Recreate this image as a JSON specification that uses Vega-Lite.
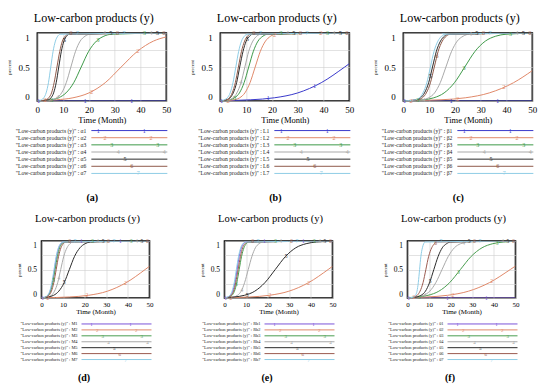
{
"$schema":"https://vega.github.io/schema/vega-lite/v6.json",
"background":"white",
"padding":{"left":5,"top":10,"right":2,"bottom":2},
"center":true,"spacing":9,
"resolve":{"scale":{"x":"independent","y":"independent","color":"independent"}},
"config":{
 "font":"Liberation Serif",
 "view":{"stroke":"#000","strokeWidth":1.6},
 "axis":{"domain":false,"ticks":false,"grid":true,"gridColor":"#cfcfcf","gridWidth":0.6,"labelColor":"#000","titleColor":"#000","titleFontWeight":"normal","labelFont":"Liberation Serif","titleFont":"Liberation Serif"},
 "title":{"font":"Liberation Serif","fontWeight":"normal","color":"#000","anchor":"middle"}
},
"datasets":{
"leg":[
{"p":"a","s":1,"lab":"\"Low-carbon products (y)\" : α1"},{"p":"a","s":2,"lab":"\"Low-carbon products (y)\" : α2"},{"p":"a","s":3,"lab":"\"Low-carbon products (y)\" : α3"},{"p":"a","s":4,"lab":"\"Low-carbon products (y)\" : α4"},{"p":"a","s":5,"lab":"\"Low-carbon products (y)\" : α5"},{"p":"a","s":6,"lab":"\"Low-carbon products (y)\" : α6"},{"p":"a","s":7,"lab":"\"Low-carbon products (y)\" : α7"},
{"p":"b","s":1,"lab":"\"Low-carbon products (y)\" : L1"},{"p":"b","s":2,"lab":"\"Low-carbon products (y)\" : L2"},{"p":"b","s":3,"lab":"\"Low-carbon products (y)\" : L3"},{"p":"b","s":4,"lab":"\"Low-carbon products (y)\" : L4"},{"p":"b","s":5,"lab":"\"Low-carbon products (y)\" : L5"},{"p":"b","s":6,"lab":"\"Low-carbon products (y)\" : L6"},{"p":"b","s":7,"lab":"\"Low-carbon products (y)\" : L7"},
{"p":"c","s":1,"lab":"\"Low-carbon products (y)\" : β1"},{"p":"c","s":2,"lab":"\"Low-carbon products (y)\" : β2"},{"p":"c","s":3,"lab":"\"Low-carbon products (y)\" : β3"},{"p":"c","s":4,"lab":"\"Low-carbon products (y)\" : β4"},{"p":"c","s":5,"lab":"\"Low-carbon products (y)\" : β5"},{"p":"c","s":6,"lab":"\"Low-carbon products (y)\" : β6"},{"p":"c","s":7,"lab":"\"Low-carbon products (y)\" : β7"},
{"p":"d","s":1,"lab":"\"Low-carbon products (y)\" : M1"},{"p":"d","s":2,"lab":"\"Low-carbon products (y)\" : M2"},{"p":"d","s":3,"lab":"\"Low-carbon products (y)\" : M3"},{"p":"d","s":4,"lab":"\"Low-carbon products (y)\" : M4"},{"p":"d","s":5,"lab":"\"Low-carbon products (y)\" : M5"},{"p":"d","s":6,"lab":"\"Low-carbon products (y)\" : M6"},{"p":"d","s":7,"lab":"\"Low-carbon products (y)\" : M7"},
{"p":"e","s":1,"lab":"\"Low-carbon products (y)\" : Rb1"},{"p":"e","s":2,"lab":"\"Low-carbon products (y)\" : Rb2"},{"p":"e","s":3,"lab":"\"Low-carbon products (y)\" : Rb3"},{"p":"e","s":4,"lab":"\"Low-carbon products (y)\" : Rb4"},{"p":"e","s":5,"lab":"\"Low-carbon products (y)\" : Rb5"},{"p":"e","s":6,"lab":"\"Low-carbon products (y)\" : Rb6"},{"p":"e","s":7,"lab":"\"Low-carbon products (y)\" : Rb7"},
{"p":"f","s":1,"lab":"\"Low-carbon products (y)\" : θ1"},{"p":"f","s":2,"lab":"\"Low-carbon products (y)\" : θ2"},{"p":"f","s":3,"lab":"\"Low-carbon products (y)\" : θ3"},{"p":"f","s":4,"lab":"\"Low-carbon products (y)\" : θ4"},{"p":"f","s":5,"lab":"\"Low-carbon products (y)\" : θ5"},{"p":"f","s":6,"lab":"\"Low-carbon products (y)\" : θ6"},{"p":"f","s":7,"lab":"\"Low-carbon products (y)\" : θ7"}
],
"mk":[
{"p":"a","s":1,"t":0.5,"v":0},{"p":"a","s":1,"t":18.5,"v":0},{"p":"a","s":1,"t":36.5,"v":0},
{"p":"a","s":2,"t":3,"v":0.009},{"p":"a","s":2,"t":21,"v":0.137},{"p":"a","s":2,"t":39,"v":0.739},
{"p":"a","s":3,"t":5.5,"v":0.02},{"p":"a","s":3,"t":23.5,"v":0.901},{"p":"a","s":3,"t":41.5,"v":1},
{"p":"a","s":4,"t":8,"v":0.06},{"p":"a","s":4,"t":26,"v":1},{"p":"a","s":4,"t":44,"v":1},
{"p":"a","s":5,"t":10.5,"v":0.9},{"p":"a","s":5,"t":28.5,"v":1},{"p":"a","s":5,"t":46.5,"v":1},
{"p":"a","s":6,"t":13,"v":0.994},{"p":"a","s":6,"t":31,"v":1},{"p":"a","s":6,"t":49,"v":1},
{"p":"a","s":7,"t":15.5,"v":1},{"p":"a","s":7,"t":33.5,"v":1},
{"p":"b","s":1,"t":0.5,"v":0.005},{"p":"b","s":1,"t":18.5,"v":0.037},{"p":"b","s":1,"t":36.5,"v":0.216},
{"p":"b","s":2,"t":3,"v":0.005},{"p":"b","s":2,"t":21,"v":0.977},{"p":"b","s":2,"t":39,"v":1},
{"p":"b","s":3,"t":5.5,"v":0.046},{"p":"b","s":3,"t":23.5,"v":1},{"p":"b","s":3,"t":41.5,"v":1},
{"p":"b","s":4,"t":8,"v":0.274},{"p":"b","s":4,"t":26,"v":1},{"p":"b","s":4,"t":44,"v":1},
{"p":"b","s":5,"t":10.5,"v":0.917},{"p":"b","s":5,"t":28.5,"v":1},{"p":"b","s":5,"t":46.5,"v":1},
{"p":"b","s":6,"t":13,"v":0.994},{"p":"b","s":6,"t":31,"v":1},{"p":"b","s":6,"t":49,"v":1},
{"p":"b","s":7,"t":15.5,"v":1},{"p":"b","s":7,"t":33.5,"v":1},
{"p":"c","s":1,"t":0.5,"v":0},{"p":"c","s":1,"t":18.5,"v":0},{"p":"c","s":1,"t":36.5,"v":0},
{"p":"c","s":2,"t":3,"v":0.005},{"p":"c","s":2,"t":21,"v":0.035},{"p":"c","s":2,"t":39,"v":0.199},
{"p":"c","s":3,"t":5.5,"v":0.01},{"p":"c","s":3,"t":23.5,"v":0.481},{"p":"c","s":3,"t":41.5,"v":0.988},
{"p":"c","s":4,"t":8,"v":0.021},{"p":"c","s":4,"t":26,"v":0.986},{"p":"c","s":4,"t":44,"v":1},
{"p":"c","s":5,"t":10.5,"v":0.373},{"p":"c","s":5,"t":28.5,"v":1},{"p":"c","s":5,"t":46.5,"v":1},
{"p":"c","s":6,"t":13,"v":0.657},{"p":"c","s":6,"t":31,"v":1},{"p":"c","s":6,"t":49,"v":1},
{"p":"c","s":7,"t":15.5,"v":0.971},{"p":"c","s":7,"t":33.5,"v":1},
{"p":"d","s":1,"t":0.5,"v":0.004},{"p":"d","s":1,"t":18.5,"v":1},{"p":"d","s":1,"t":36.5,"v":1},
{"p":"d","s":2,"t":3,"v":0.006},{"p":"d","s":2,"t":21,"v":0.044},{"p":"d","s":2,"t":39,"v":0.264},
{"p":"d","s":3,"t":5.5,"v":0.319},{"p":"d","s":3,"t":23.5,"v":1},{"p":"d","s":3,"t":41.5,"v":1},
{"p":"d","s":4,"t":8,"v":0.348},{"p":"d","s":4,"t":26,"v":1},{"p":"d","s":4,"t":44,"v":1},
{"p":"d","s":5,"t":10.5,"v":0.272},{"p":"d","s":5,"t":28.5,"v":0.998},{"p":"d","s":5,"t":46.5,"v":1},
{"p":"d","s":6,"t":13,"v":0.996},{"p":"d","s":6,"t":31,"v":1},{"p":"d","s":6,"t":49,"v":1},
{"p":"d","s":7,"t":15.5,"v":1},{"p":"d","s":7,"t":33.5,"v":1},
{"p":"e","s":1,"t":0.5,"v":0.005},{"p":"e","s":1,"t":18.5,"v":1},{"p":"e","s":1,"t":36.5,"v":1},
{"p":"e","s":2,"t":3,"v":0.007},{"p":"e","s":2,"t":21,"v":0.049},{"p":"e","s":2,"t":39,"v":0.271},
{"p":"e","s":3,"t":5.5,"v":0.237},{"p":"e","s":3,"t":23.5,"v":1},{"p":"e","s":3,"t":41.5,"v":1},
{"p":"e","s":4,"t":8,"v":0.142},{"p":"e","s":4,"t":26,"v":1},{"p":"e","s":4,"t":44,"v":1},
{"p":"e","s":5,"t":10.5,"v":0.061},{"p":"e","s":5,"t":28.5,"v":0.741},{"p":"e","s":5,"t":46.5,"v":0.992},
{"p":"e","s":6,"t":13,"v":1},{"p":"e","s":6,"t":31,"v":1},{"p":"e","s":6,"t":49,"v":1},
{"p":"e","s":7,"t":15.5,"v":1},{"p":"e","s":7,"t":33.5,"v":1},
{"p":"f","s":1,"t":0.5,"v":0},{"p":"f","s":1,"t":18.5,"v":0},{"p":"f","s":1,"t":36.5,"v":0},
{"p":"f","s":2,"t":3,"v":0.01},{"p":"f","s":2,"t":21,"v":0.061},{"p":"f","s":2,"t":39,"v":0.292},
{"p":"f","s":3,"t":5.5,"v":0.022},{"p":"f","s":3,"t":23.5,"v":0.45},{"p":"f","s":3,"t":41.5,"v":0.968},
{"p":"f","s":4,"t":8,"v":0.057},{"p":"f","s":4,"t":26,"v":0.971},{"p":"f","s":4,"t":44,"v":1},
{"p":"f","s":5,"t":10.5,"v":0.296},{"p":"f","s":5,"t":28.5,"v":1},{"p":"f","s":5,"t":46.5,"v":1},
{"p":"f","s":6,"t":13,"v":0.967},{"p":"f","s":6,"t":31,"v":1},{"p":"f","s":6,"t":49,"v":1},
{"p":"f","s":7,"t":15.5,"v":1},{"p":"f","s":7,"t":33.5,"v":1}
],
"curves":[
{"p":"a","s":1,"t":0,"v":0},{"p":"a","s":1,"t":50,"v":0},
{"p":"a","s":2,"t":0,"v":0.005},{"p":"a","s":2,"t":7.5,"v":0.018},{"p":"a","s":2,"t":13.8,"v":0.047},{"p":"a","s":2,"t":20,"v":0.119},{"p":"a","s":2,"t":26.3,"v":0.269},{"p":"a","s":2,"t":32.5,"v":0.5},{"p":"a","s":2,"t":38.8,"v":0.731},{"p":"a","s":2,"t":45,"v":0.881},{"p":"a","s":2,"t":50,"v":0.943},
{"p":"a","s":3,"t":0,"v":0},{"p":"a","s":3,"t":5.2,"v":0.018},{"p":"a","s":3,"t":8.2,"v":0.047},{"p":"a","s":3,"t":11.1,"v":0.119},{"p":"a","s":3,"t":14.1,"v":0.269},{"p":"a","s":3,"t":17,"v":0.5},{"p":"a","s":3,"t":19.9,"v":0.731},{"p":"a","s":3,"t":22.9,"v":0.881},{"p":"a","s":3,"t":25.8,"v":0.953},{"p":"a","s":3,"t":28.8,"v":0.982},{"p":"a","s":3,"t":50,"v":1},
{"p":"a","s":4,"t":0,"v":0},{"p":"a","s":4,"t":5.7,"v":0.018},{"p":"a","s":4,"t":7.5,"v":0.047},{"p":"a","s":4,"t":9.4,"v":0.119},{"p":"a","s":4,"t":11.2,"v":0.269},{"p":"a","s":4,"t":13,"v":0.5},{"p":"a","s":4,"t":14.8,"v":0.731},{"p":"a","s":4,"t":16.6,"v":0.881},{"p":"a","s":4,"t":18.5,"v":0.953},{"p":"a","s":4,"t":20.3,"v":0.982},{"p":"a","s":4,"t":50,"v":1},
{"p":"a","s":5,"t":0,"v":0},{"p":"a","s":5,"t":4.3,"v":0.018},{"p":"a","s":5,"t":5.3,"v":0.047},{"p":"a","s":5,"t":6.3,"v":0.119},{"p":"a","s":5,"t":7.3,"v":0.269},{"p":"a","s":5,"t":8.3,"v":0.5},{"p":"a","s":5,"t":9.3,"v":0.731},{"p":"a","s":5,"t":10.3,"v":0.881},{"p":"a","s":5,"t":11.3,"v":0.953},{"p":"a","s":5,"t":12.3,"v":0.982},{"p":"a","s":5,"t":50,"v":1},
{"p":"a","s":6,"t":0,"v":0},{"p":"a","s":6,"t":3.4,"v":0.018},{"p":"a","s":6,"t":4.4,"v":0.047},{"p":"a","s":6,"t":5.5,"v":0.119},{"p":"a","s":6,"t":6.5,"v":0.269},{"p":"a","s":6,"t":7.6,"v":0.5},{"p":"a","s":6,"t":8.7,"v":0.731},{"p":"a","s":6,"t":9.7,"v":0.881},{"p":"a","s":6,"t":10.8,"v":0.953},{"p":"a","s":6,"t":11.8,"v":0.982},{"p":"a","s":6,"t":50,"v":1},
{"p":"a","s":7,"t":0,"v":0},{"p":"a","s":7,"t":1.6,"v":0.018},{"p":"a","s":7,"t":2.5,"v":0.047},{"p":"a","s":7,"t":3.4,"v":0.119},{"p":"a","s":7,"t":4.3,"v":0.269},{"p":"a","s":7,"t":5.2,"v":0.5},{"p":"a","s":7,"t":6.1,"v":0.731},{"p":"a","s":7,"t":7,"v":0.881},{"p":"a","s":7,"t":7.9,"v":0.953},{"p":"a","s":7,"t":8.8,"v":0.982},{"p":"a","s":7,"t":50,"v":1},
{"p":"b","s":1,"t":0,"v":0.005},{"p":"b","s":1,"t":11.8,"v":0.018},{"p":"b","s":1,"t":20.9,"v":0.047},{"p":"b","s":1,"t":30,"v":0.119},{"p":"b","s":1,"t":39.1,"v":0.269},{"p":"b","s":1,"t":48.2,"v":0.5},{"p":"b","s":1,"t":50,"v":0.549},
{"p":"b","s":2,"t":0,"v":0},{"p":"b","s":2,"t":5.5,"v":0.018},{"p":"b","s":2,"t":7.5,"v":0.047},{"p":"b","s":2,"t":9.5,"v":0.119},{"p":"b","s":2,"t":11.5,"v":0.269},{"p":"b","s":2,"t":13.5,"v":0.5},{"p":"b","s":2,"t":15.5,"v":0.731},{"p":"b","s":2,"t":17.5,"v":0.881},{"p":"b","s":2,"t":19.5,"v":0.953},{"p":"b","s":2,"t":21.5,"v":0.982},{"p":"b","s":2,"t":50,"v":1},
{"p":"b","s":3,"t":0,"v":0},{"p":"b","s":3,"t":3.7,"v":0.018},{"p":"b","s":3,"t":5.5,"v":0.047},{"p":"b","s":3,"t":7.4,"v":0.119},{"p":"b","s":3,"t":9.2,"v":0.269},{"p":"b","s":3,"t":11,"v":0.5},{"p":"b","s":3,"t":12.8,"v":0.731},{"p":"b","s":3,"t":14.6,"v":0.881},{"p":"b","s":3,"t":16.5,"v":0.953},{"p":"b","s":3,"t":18.3,"v":0.982},{"p":"b","s":3,"t":50,"v":1},
{"p":"b","s":4,"t":0,"v":0},{"p":"b","s":4,"t":3.3,"v":0.018},{"p":"b","s":4,"t":4.9,"v":0.047},{"p":"b","s":4,"t":6.4,"v":0.119},{"p":"b","s":4,"t":8,"v":0.269},{"p":"b","s":4,"t":9.5,"v":0.5},{"p":"b","s":4,"t":11,"v":0.731},{"p":"b","s":4,"t":12.6,"v":0.881},{"p":"b","s":4,"t":14.1,"v":0.953},{"p":"b","s":4,"t":15.7,"v":0.982},{"p":"b","s":4,"t":50,"v":1},
{"p":"b","s":5,"t":0,"v":0},{"p":"b","s":5,"t":2.5,"v":0.018},{"p":"b","s":5,"t":3.8,"v":0.047},{"p":"b","s":5,"t":5,"v":0.119},{"p":"b","s":5,"t":6.3,"v":0.269},{"p":"b","s":5,"t":7.5,"v":0.5},{"p":"b","s":5,"t":8.8,"v":0.731},{"p":"b","s":5,"t":10,"v":0.881},{"p":"b","s":5,"t":11.3,"v":0.953},{"p":"b","s":5,"t":12.5,"v":0.982},{"p":"b","s":5,"t":50,"v":1},
{"p":"b","s":6,"t":0,"v":0},{"p":"b","s":6,"t":2.3,"v":0.018},{"p":"b","s":6,"t":3.5,"v":0.047},{"p":"b","s":6,"t":4.6,"v":0.119},{"p":"b","s":6,"t":5.8,"v":0.269},{"p":"b","s":6,"t":7,"v":0.5},{"p":"b","s":6,"t":8.2,"v":0.731},{"p":"b","s":6,"t":9.4,"v":0.881},{"p":"b","s":6,"t":10.5,"v":0.953},{"p":"b","s":6,"t":11.7,"v":0.982},{"p":"b","s":6,"t":50,"v":1},
{"p":"b","s":7,"t":0,"v":0},{"p":"b","s":7,"t":1.6,"v":0.018},{"p":"b","s":7,"t":2.7,"v":0.047},{"p":"b","s":7,"t":3.8,"v":0.119},{"p":"b","s":7,"t":4.9,"v":0.269},{"p":"b","s":7,"t":6,"v":0.5},{"p":"b","s":7,"t":7.1,"v":0.731},{"p":"b","s":7,"t":8.2,"v":0.881},{"p":"b","s":7,"t":9.3,"v":0.953},{"p":"b","s":7,"t":10.4,"v":0.982},{"p":"b","s":7,"t":50,"v":1},
{"p":"c","s":1,"t":0,"v":0},{"p":"c","s":1,"t":50,"v":0},
{"p":"c","s":2,"t":0,"v":0.004},{"p":"c","s":2,"t":14.6,"v":0.018},{"p":"c","s":2,"t":24,"v":0.047},{"p":"c","s":2,"t":33.3,"v":0.119},{"p":"c","s":2,"t":42.7,"v":0.269},{"p":"c","s":2,"t":50,"v":0.447},
{"p":"c","s":3,"t":0,"v":0},{"p":"c","s":3,"t":7.8,"v":0.018},{"p":"c","s":3,"t":11.8,"v":0.047},{"p":"c","s":3,"t":15.8,"v":0.119},{"p":"c","s":3,"t":19.8,"v":0.269},{"p":"c","s":3,"t":23.8,"v":0.5},{"p":"c","s":3,"t":27.8,"v":0.731},{"p":"c","s":3,"t":31.8,"v":0.881},{"p":"c","s":3,"t":35.8,"v":0.953},{"p":"c","s":3,"t":39.8,"v":0.982},{"p":"c","s":3,"t":50,"v":0.997},
{"p":"c","s":4,"t":0,"v":0},{"p":"c","s":4,"t":7.6,"v":0.018},{"p":"c","s":4,"t":9.8,"v":0.047},{"p":"c","s":4,"t":12.1,"v":0.119},{"p":"c","s":4,"t":14.3,"v":0.269},{"p":"c","s":4,"t":16.5,"v":0.5},{"p":"c","s":4,"t":18.7,"v":0.731},{"p":"c","s":4,"t":20.9,"v":0.881},{"p":"c","s":4,"t":23.2,"v":0.953},{"p":"c","s":4,"t":25.4,"v":0.982},{"p":"c","s":4,"t":50,"v":1},
{"p":"c","s":5,"t":0,"v":0},{"p":"c","s":5,"t":5.1,"v":0.018},{"p":"c","s":5,"t":6.7,"v":0.047},{"p":"c","s":5,"t":8.2,"v":0.119},{"p":"c","s":5,"t":9.8,"v":0.269},{"p":"c","s":5,"t":11.3,"v":0.5},{"p":"c","s":5,"t":12.8,"v":0.731},{"p":"c","s":5,"t":14.4,"v":0.881},{"p":"c","s":5,"t":15.9,"v":0.953},{"p":"c","s":5,"t":17.5,"v":0.982},{"p":"c","s":5,"t":50,"v":1},
{"p":"c","s":6,"t":0,"v":0},{"p":"c","s":6,"t":5.8,"v":0.018},{"p":"c","s":6,"t":7.4,"v":0.047},{"p":"c","s":6,"t":8.9,"v":0.119},{"p":"c","s":6,"t":10.5,"v":0.269},{"p":"c","s":6,"t":12,"v":0.5},{"p":"c","s":6,"t":13.5,"v":0.731},{"p":"c","s":6,"t":15.1,"v":0.881},{"p":"c","s":6,"t":16.6,"v":0.953},{"p":"c","s":6,"t":18.2,"v":0.982},{"p":"c","s":6,"t":50,"v":1},
{"p":"c","s":7,"t":0,"v":0},{"p":"c","s":7,"t":4.8,"v":0.018},{"p":"c","s":7,"t":6.2,"v":0.047},{"p":"c","s":7,"t":7.6,"v":0.119},{"p":"c","s":7,"t":9.1,"v":0.269},{"p":"c","s":7,"t":10.5,"v":0.5},{"p":"c","s":7,"t":11.9,"v":0.731},{"p":"c","s":7,"t":13.4,"v":0.881},{"p":"c","s":7,"t":14.8,"v":0.953},{"p":"c","s":7,"t":16.2,"v":0.982},{"p":"c","s":7,"t":50,"v":1},
{"p":"d","s":1,"t":0,"v":0},{"p":"d","s":1,"t":2,"v":0.018},{"p":"d","s":1,"t":3,"v":0.047},{"p":"d","s":1,"t":4,"v":0.119},{"p":"d","s":1,"t":5,"v":0.269},{"p":"d","s":1,"t":6,"v":0.5},{"p":"d","s":1,"t":7,"v":0.731},{"p":"d","s":1,"t":8,"v":0.881},{"p":"d","s":1,"t":9,"v":0.953},{"p":"d","s":1,"t":10,"v":0.982},{"p":"d","s":1,"t":50,"v":1},
{"p":"d","s":2,"t":0,"v":0.004},{"p":"d","s":2,"t":12.9,"v":0.018},{"p":"d","s":2,"t":21.7,"v":0.047},{"p":"d","s":2,"t":30.5,"v":0.119},{"p":"d","s":2,"t":39.2,"v":0.269},{"p":"d","s":2,"t":48,"v":0.5},{"p":"d","s":2,"t":50,"v":0.557},
{"p":"d","s":3,"t":0,"v":0},{"p":"d","s":3,"t":2.1,"v":0.018},{"p":"d","s":3,"t":3.1,"v":0.047},{"p":"d","s":3,"t":4.2,"v":0.119},{"p":"d","s":3,"t":5.2,"v":0.269},{"p":"d","s":3,"t":6.3,"v":0.5},{"p":"d","s":3,"t":7.4,"v":0.731},{"p":"d","s":3,"t":8.4,"v":0.881},{"p":"d","s":3,"t":9.5,"v":0.953},{"p":"d","s":3,"t":10.5,"v":0.982},{"p":"d","s":3,"t":50,"v":1},
{"p":"d","s":4,"t":0,"v":0},{"p":"d","s":4,"t":3.2,"v":0.018},{"p":"d","s":4,"t":4.6,"v":0.047},{"p":"d","s":4,"t":6,"v":0.119},{"p":"d","s":4,"t":7.5,"v":0.269},{"p":"d","s":4,"t":8.9,"v":0.5},{"p":"d","s":4,"t":10.3,"v":0.731},{"p":"d","s":4,"t":11.8,"v":0.881},{"p":"d","s":4,"t":13.2,"v":0.953},{"p":"d","s":4,"t":14.6,"v":0.982},{"p":"d","s":4,"t":50,"v":1},
{"p":"d","s":5,"t":0,"v":0},{"p":"d","s":5,"t":3.1,"v":0.018},{"p":"d","s":5,"t":5.6,"v":0.047},{"p":"d","s":5,"t":8,"v":0.119},{"p":"d","s":5,"t":10.5,"v":0.269},{"p":"d","s":5,"t":12.9,"v":0.5},{"p":"d","s":5,"t":15.3,"v":0.731},{"p":"d","s":5,"t":17.8,"v":0.881},{"p":"d","s":5,"t":20.2,"v":0.953},{"p":"d","s":5,"t":22.7,"v":0.982},{"p":"d","s":5,"t":50,"v":1},
{"p":"d","s":6,"t":0,"v":0},{"p":"d","s":6,"t":2.4,"v":0.018},{"p":"d","s":6,"t":3.5,"v":0.047},{"p":"d","s":6,"t":4.6,"v":0.119},{"p":"d","s":6,"t":5.7,"v":0.269},{"p":"d","s":6,"t":6.8,"v":0.5},{"p":"d","s":6,"t":7.9,"v":0.731},{"p":"d","s":6,"t":9,"v":0.881},{"p":"d","s":6,"t":10.1,"v":0.953},{"p":"d","s":6,"t":11.2,"v":0.982},{"p":"d","s":6,"t":50,"v":1},
{"p":"d","s":7,"t":0,"v":0},{"p":"d","s":7,"t":1.8,"v":0.018},{"p":"d","s":7,"t":2.8,"v":0.047},{"p":"d","s":7,"t":3.8,"v":0.119},{"p":"d","s":7,"t":4.8,"v":0.269},{"p":"d","s":7,"t":5.8,"v":0.5},{"p":"d","s":7,"t":6.8,"v":0.731},{"p":"d","s":7,"t":7.8,"v":0.881},{"p":"d","s":7,"t":8.8,"v":0.953},{"p":"d","s":7,"t":9.8,"v":0.982},{"p":"d","s":7,"t":50,"v":1},
{"p":"e","s":1,"t":0,"v":0},{"p":"e","s":1,"t":1.8,"v":0.018},{"p":"e","s":1,"t":2.8,"v":0.047},{"p":"e","s":1,"t":3.8,"v":0.119},{"p":"e","s":1,"t":4.8,"v":0.269},{"p":"e","s":1,"t":5.8,"v":0.5},{"p":"e","s":1,"t":6.8,"v":0.731},{"p":"e","s":1,"t":7.8,"v":0.881},{"p":"e","s":1,"t":8.8,"v":0.953},{"p":"e","s":1,"t":9.8,"v":0.982},{"p":"e","s":1,"t":50,"v":1},
{"p":"e","s":2,"t":0,"v":0.005},{"p":"e","s":2,"t":11.6,"v":0.018},{"p":"e","s":2,"t":20.7,"v":0.047},{"p":"e","s":2,"t":29.8,"v":0.119},{"p":"e","s":2,"t":38.9,"v":0.269},{"p":"e","s":2,"t":48,"v":0.5},{"p":"e","s":2,"t":50,"v":0.555},
{"p":"e","s":3,"t":0,"v":0},{"p":"e","s":3,"t":2.4,"v":0.018},{"p":"e","s":3,"t":3.5,"v":0.047},{"p":"e","s":3,"t":4.6,"v":0.119},{"p":"e","s":3,"t":5.7,"v":0.269},{"p":"e","s":3,"t":6.8,"v":0.5},{"p":"e","s":3,"t":7.9,"v":0.731},{"p":"e","s":3,"t":9,"v":0.881},{"p":"e","s":3,"t":10.1,"v":0.953},{"p":"e","s":3,"t":11.2,"v":0.982},{"p":"e","s":3,"t":50,"v":1},
{"p":"e","s":4,"t":0,"v":0},{"p":"e","s":4,"t":4.3,"v":0.018},{"p":"e","s":4,"t":6,"v":0.047},{"p":"e","s":4,"t":7.7,"v":0.119},{"p":"e","s":4,"t":9.3,"v":0.269},{"p":"e","s":4,"t":11,"v":0.5},{"p":"e","s":4,"t":12.7,"v":0.731},{"p":"e","s":4,"t":14.3,"v":0.881},{"p":"e","s":4,"t":16,"v":0.953},{"p":"e","s":4,"t":17.7,"v":0.982},{"p":"e","s":4,"t":50,"v":1},
{"p":"e","s":5,"t":0,"v":0.007},{"p":"e","s":5,"t":4.5,"v":0.018},{"p":"e","s":5,"t":9.2,"v":0.047},{"p":"e","s":5,"t":14,"v":0.119},{"p":"e","s":5,"t":18.7,"v":0.269},{"p":"e","s":5,"t":23.5,"v":0.5},{"p":"e","s":5,"t":28.3,"v":0.731},{"p":"e","s":5,"t":33,"v":0.881},{"p":"e","s":5,"t":37.8,"v":0.953},{"p":"e","s":5,"t":42.5,"v":0.982},{"p":"e","s":5,"t":50,"v":0.995},
{"p":"e","s":6,"t":0,"v":0},{"p":"e","s":6,"t":2.1,"v":0.018},{"p":"e","s":6,"t":3.1,"v":0.047},{"p":"e","s":6,"t":4.2,"v":0.119},{"p":"e","s":6,"t":5.2,"v":0.269},{"p":"e","s":6,"t":6.3,"v":0.5},{"p":"e","s":6,"t":7.4,"v":0.731},{"p":"e","s":6,"t":8.4,"v":0.881},{"p":"e","s":6,"t":9.5,"v":0.953},{"p":"e","s":6,"t":10.5,"v":0.982},{"p":"e","s":6,"t":50,"v":1},
{"p":"e","s":7,"t":0,"v":0},{"p":"e","s":7,"t":1.5,"v":0.018},{"p":"e","s":7,"t":2.5,"v":0.047},{"p":"e","s":7,"t":3.5,"v":0.119},{"p":"e","s":7,"t":4.5,"v":0.269},{"p":"e","s":7,"t":5.5,"v":0.5},{"p":"e","s":7,"t":6.5,"v":0.731},{"p":"e","s":7,"t":7.5,"v":0.881},{"p":"e","s":7,"t":8.5,"v":0.953},{"p":"e","s":7,"t":9.5,"v":0.982},{"p":"e","s":7,"t":50,"v":1},
{"p":"f","s":1,"t":0,"v":0},{"p":"f","s":1,"t":50,"v":0},
{"p":"f","s":2,"t":0,"v":0.007},{"p":"f","s":2,"t":8.8,"v":0.018},{"p":"f","s":2,"t":18.5,"v":0.047},{"p":"f","s":2,"t":28.2,"v":0.119},{"p":"f","s":2,"t":37.9,"v":0.269},{"p":"f","s":2,"t":47.6,"v":0.5},{"p":"f","s":2,"t":50,"v":0.561},
{"p":"f","s":3,"t":0,"v":0.007},{"p":"f","s":3,"t":4.5,"v":0.018},{"p":"f","s":3,"t":9.5,"v":0.047},{"p":"f","s":3,"t":14.5,"v":0.119},{"p":"f","s":3,"t":19.5,"v":0.269},{"p":"f","s":3,"t":24.5,"v":0.5},{"p":"f","s":3,"t":29.5,"v":0.731},{"p":"f","s":3,"t":34.5,"v":0.881},{"p":"f","s":3,"t":39.5,"v":0.953},{"p":"f","s":3,"t":44.5,"v":0.982},{"p":"f","s":3,"t":50,"v":0.994},
{"p":"f","s":4,"t":0,"v":0},{"p":"f","s":4,"t":4.6,"v":0.018},{"p":"f","s":4,"t":7.4,"v":0.047},{"p":"f","s":4,"t":10.3,"v":0.119},{"p":"f","s":4,"t":13.1,"v":0.269},{"p":"f","s":4,"t":16,"v":0.5},{"p":"f","s":4,"t":18.9,"v":0.731},{"p":"f","s":4,"t":21.7,"v":0.881},{"p":"f","s":4,"t":24.6,"v":0.953},{"p":"f","s":4,"t":27.4,"v":0.982},{"p":"f","s":4,"t":50,"v":1},
{"p":"f","s":5,"t":0,"v":0},{"p":"f","s":5,"t":4.4,"v":0.018},{"p":"f","s":5,"t":6.3,"v":0.047},{"p":"f","s":5,"t":8.3,"v":0.119},{"p":"f","s":5,"t":10.2,"v":0.269},{"p":"f","s":5,"t":12.2,"v":0.5},{"p":"f","s":5,"t":14.2,"v":0.731},{"p":"f","s":5,"t":16.1,"v":0.881},{"p":"f","s":5,"t":18.1,"v":0.953},{"p":"f","s":5,"t":20,"v":0.982},{"p":"f","s":5,"t":50,"v":1},
{"p":"f","s":6,"t":0,"v":0},{"p":"f","s":6,"t":3.2,"v":0.018},{"p":"f","s":6,"t":4.5,"v":0.047},{"p":"f","s":6,"t":5.8,"v":0.119},{"p":"f","s":6,"t":7.2,"v":0.269},{"p":"f","s":6,"t":8.5,"v":0.5},{"p":"f","s":6,"t":9.8,"v":0.731},{"p":"f","s":6,"t":11.2,"v":0.881},{"p":"f","s":6,"t":12.5,"v":0.953},{"p":"f","s":6,"t":13.8,"v":0.982},{"p":"f","s":6,"t":50,"v":1},
{"p":"f","s":7,"t":0,"v":0},{"p":"f","s":7,"t":3.1,"v":0.018},{"p":"f","s":7,"t":3.7,"v":0.047},{"p":"f","s":7,"t":4.4,"v":0.119},{"p":"f","s":7,"t":5,"v":0.269},{"p":"f","s":7,"t":5.6,"v":0.5},{"p":"f","s":7,"t":6.2,"v":0.731},{"p":"f","s":7,"t":6.9,"v":0.881},{"p":"f","s":7,"t":7.5,"v":0.953},{"p":"f","s":7,"t":8.1,"v":0.982},{"p":"f","s":7,"t":50,"v":1}
]
},
"vconcat":[
{"columns":3,"spacing":{"row":26,"column":53},"bounds":"flush","align":"each","resolve":{"scale":{"x":"independent","y":"independent"}},
 "concat":[
  {"width":129,"height":68,"title":{"text":"Low-carbon products (y)","fontSize":12,"fontWeight":"normal","offset":-6.5,"baseline":"bottom","dx":-8},
   "encoding":{
    "x":{"field":"t","type":"quantitative","scale":{"domain":[0,50],"nice":false},"axis":{"values":[0,10,20,30,40,50],"title":"Time (Month)","titleFontWeight":"normal","labelFontSize":9,"titleFontSize":8.5,"labelPadding":4,"titlePadding":1,"labelFlush":false}},
    "y":{"field":"v","type":"quantitative","scale":{"domain":[0,1],"nice":false},"axis":{"values":[0,0.25,0.5,0.75,1],"format":"~g","labelExpr":"datum.value==0.25||datum.value==0.75?'':datum.label","title":"percent","titleFontWeight":"normal","titleFontSize":5,"labelFontSize":9,"labelPadding":8,"titlePadding":7,"labelFlush":true}},
    "color":{"field":"s","type":"nominal","scale":{"domain":[1,2,3,4,5,6,7],"range":["#3a3acb","#e0896a","#3f9a4a","#a9a9a9","#2b2b2b","#8f5a4a","#8fcde6"]},"legend":null}},
   "layer":[
    {"data":{"name":"curves"},"transform":[{"filter":"datum.p=='a'"}],"mark":{"type":"line","interpolate":"monotone","strokeWidth":1,"clip":true}},
    {"data":{"name":"mk"},"transform":[{"filter":"datum.p=='a'"}],"mark":{"type":"text","fontSize":6.5,"baseline":"middle"},"encoding":{"text":{"field":"s","type":"nominal"}}}
   ]},
  {"width":129,"height":68,"title":{"text":"Low-carbon products (y)","fontSize":12,"fontWeight":"normal","offset":-6.5,"baseline":"bottom","dx":-8},
   "encoding":{
    "x":{"field":"t","type":"quantitative","scale":{"domain":[0,50],"nice":false},"axis":{"values":[0,10,20,30,40,50],"title":"Time (Month)","titleFontWeight":"normal","labelFontSize":9,"titleFontSize":8.5,"labelPadding":4,"titlePadding":1,"labelFlush":false}},
    "y":{"field":"v","type":"quantitative","scale":{"domain":[0,1],"nice":false},"axis":{"values":[0,0.25,0.5,0.75,1],"format":"~g","labelExpr":"datum.value==0.25||datum.value==0.75?'':datum.label","title":"percent","titleFontWeight":"normal","titleFontSize":5,"labelFontSize":9,"labelPadding":8,"titlePadding":7,"labelFlush":true}},
    "color":{"field":"s","type":"nominal","scale":{"domain":[1,2,3,4,5,6,7],"range":["#3a3acb","#e0896a","#3f9a4a","#a9a9a9","#2b2b2b","#8f5a4a","#8fcde6"]},"legend":null}},
   "layer":[
    {"data":{"name":"curves"},"transform":[{"filter":"datum.p=='b'"}],"mark":{"type":"line","interpolate":"monotone","strokeWidth":1,"clip":true}},
    {"data":{"name":"mk"},"transform":[{"filter":"datum.p=='b'"}],"mark":{"type":"text","fontSize":6.5,"baseline":"middle"},"encoding":{"text":{"field":"s","type":"nominal"}}}
   ]},
  {"width":129,"height":68,"title":{"text":"Low-carbon products (y)","fontSize":12,"fontWeight":"normal","offset":-6.5,"baseline":"bottom","dx":-8},
   "encoding":{
    "x":{"field":"t","type":"quantitative","scale":{"domain":[0,50],"nice":false},"axis":{"values":[0,10,20,30,40,50],"title":"Time (Month)","titleFontWeight":"normal","labelFontSize":9,"titleFontSize":8.5,"labelPadding":4,"titlePadding":1,"labelFlush":false}},
    "y":{"field":"v","type":"quantitative","scale":{"domain":[0,1],"nice":false},"axis":{"values":[0,0.25,0.5,0.75,1],"format":"~g","labelExpr":"datum.value==0.25||datum.value==0.75?'':datum.label","title":"percent","titleFontWeight":"normal","titleFontSize":5,"labelFontSize":9,"labelPadding":8,"titlePadding":7,"labelFlush":true}},
    "color":{"field":"s","type":"nominal","scale":{"domain":[1,2,3,4,5,6,7],"range":["#3a3acb","#e0896a","#3f9a4a","#a9a9a9","#2b2b2b","#8f5a4a","#8fcde6"]},"legend":null}},
   "layer":[
    {"data":{"name":"curves"},"transform":[{"filter":"datum.p=='c'"}],"mark":{"type":"line","interpolate":"monotone","strokeWidth":1,"clip":true}},
    {"data":{"name":"mk"},"transform":[{"filter":"datum.p=='c'"}],"mark":{"type":"text","fontSize":6.5,"baseline":"middle"},"encoding":{"text":{"field":"s","type":"nominal"}}}
   ]},
  {"width":130,"height":50,"view":{"stroke":null},"title":{"text":"(a)","orient":"bottom","fontSize":10,"fontWeight":"bold","offset":16,"baseline":"top","dx":-10},
   "data":{"name":"leg"},"transform":[{"filter":"datum.p=='a'"}],"resolve":{"scale":{"x":"independent"}},
   "layer":[
    {"mark":{"type":"rule","strokeWidth":1},"encoding":{"x":{"datum":54,"scale":{"domain":[0,130],"nice":false,"zero":false},"axis":null},"x2":{"datum":130},"y":{"field":"s","type":"ordinal","scale":{"type":"point","padding":0.5},"axis":null},"color":{"field":"s","type":"nominal","scale":{"domain":[1,2,3,4,5,6,7],"range":["#3a3acb","#e0896a","#3f9a4a","#a9a9a9","#2b2b2b","#8f5a4a","#8fcde6"]},"legend":null}}},
    {"mark":{"type":"text","align":"right","baseline":"middle","fontSize":5.6,"color":"#1a1a1a"},"encoding":{"x":{"datum":49,"scale":{"domain":[0,130],"nice":false,"zero":false},"axis":null},"y":{"field":"s","type":"ordinal","scale":{"type":"point","padding":0.5},"axis":null},"text":{"field":"lab"}}},
    {"mark":{"type":"text","baseline":"middle","fontSize":6},"encoding":{"x":{"field":"s","type":"quantitative","scale":{"domain":[1,7],"range":[61,101]},"axis":null},"y":{"field":"s","type":"ordinal","scale":{"type":"point","padding":0.5},"axis":null},"text":{"field":"s","type":"nominal"},"color":{"field":"s","type":"nominal","legend":null}}},
    {"transform":[{"filter":"datum.s<=4"}],"mark":{"type":"text","baseline":"middle","fontSize":6},"encoding":{"x":{"field":"s","type":"quantitative","scale":{"domain":[1,4],"range":[107,127]},"axis":null},"y":{"field":"s","type":"ordinal","scale":{"type":"point","padding":0.5},"axis":null},"text":{"field":"s","type":"nominal"},"color":{"field":"s","type":"nominal","legend":null}}}
   ]},
  {"width":130,"height":50,"view":{"stroke":null},"title":{"text":"(b)","orient":"bottom","fontSize":10,"fontWeight":"bold","offset":16,"baseline":"top","dx":-10},
   "data":{"name":"leg"},"transform":[{"filter":"datum.p=='b'"}],"resolve":{"scale":{"x":"independent"}},
   "layer":[
    {"mark":{"type":"rule","strokeWidth":1},"encoding":{"x":{"datum":54,"scale":{"domain":[0,130],"nice":false,"zero":false},"axis":null},"x2":{"datum":130},"y":{"field":"s","type":"ordinal","scale":{"type":"point","padding":0.5},"axis":null},"color":{"field":"s","type":"nominal","scale":{"domain":[1,2,3,4,5,6,7],"range":["#3a3acb","#e0896a","#3f9a4a","#a9a9a9","#2b2b2b","#8f5a4a","#8fcde6"]},"legend":null}}},
    {"mark":{"type":"text","align":"right","baseline":"middle","fontSize":5.6,"color":"#1a1a1a"},"encoding":{"x":{"datum":49,"scale":{"domain":[0,130],"nice":false,"zero":false},"axis":null},"y":{"field":"s","type":"ordinal","scale":{"type":"point","padding":0.5},"axis":null},"text":{"field":"lab"}}},
    {"mark":{"type":"text","baseline":"middle","fontSize":6},"encoding":{"x":{"field":"s","type":"quantitative","scale":{"domain":[1,7],"range":[61,101]},"axis":null},"y":{"field":"s","type":"ordinal","scale":{"type":"point","padding":0.5},"axis":null},"text":{"field":"s","type":"nominal"},"color":{"field":"s","type":"nominal","legend":null}}},
    {"transform":[{"filter":"datum.s<=4"}],"mark":{"type":"text","baseline":"middle","fontSize":6},"encoding":{"x":{"field":"s","type":"quantitative","scale":{"domain":[1,4],"range":[107,127]},"axis":null},"y":{"field":"s","type":"ordinal","scale":{"type":"point","padding":0.5},"axis":null},"text":{"field":"s","type":"nominal"},"color":{"field":"s","type":"nominal","legend":null}}}
   ]},
  {"width":130,"height":50,"view":{"stroke":null},"title":{"text":"(c)","orient":"bottom","fontSize":10,"fontWeight":"bold","offset":16,"baseline":"top","dx":-10},
   "data":{"name":"leg"},"transform":[{"filter":"datum.p=='c'"}],"resolve":{"scale":{"x":"independent"}},
   "layer":[
    {"mark":{"type":"rule","strokeWidth":1},"encoding":{"x":{"datum":54,"scale":{"domain":[0,130],"nice":false,"zero":false},"axis":null},"x2":{"datum":130},"y":{"field":"s","type":"ordinal","scale":{"type":"point","padding":0.5},"axis":null},"color":{"field":"s","type":"nominal","scale":{"domain":[1,2,3,4,5,6,7],"range":["#3a3acb","#e0896a","#3f9a4a","#a9a9a9","#2b2b2b","#8f5a4a","#8fcde6"]},"legend":null}}},
    {"mark":{"type":"text","align":"right","baseline":"middle","fontSize":5.6,"color":"#1a1a1a"},"encoding":{"x":{"datum":49,"scale":{"domain":[0,130],"nice":false,"zero":false},"axis":null},"y":{"field":"s","type":"ordinal","scale":{"type":"point","padding":0.5},"axis":null},"text":{"field":"lab"}}},
    {"mark":{"type":"text","baseline":"middle","fontSize":6},"encoding":{"x":{"field":"s","type":"quantitative","scale":{"domain":[1,7],"range":[61,101]},"axis":null},"y":{"field":"s","type":"ordinal","scale":{"type":"point","padding":0.5},"axis":null},"text":{"field":"s","type":"nominal"},"color":{"field":"s","type":"nominal","legend":null}}},
    {"transform":[{"filter":"datum.s<=4"}],"mark":{"type":"text","baseline":"middle","fontSize":6},"encoding":{"x":{"field":"s","type":"quantitative","scale":{"domain":[1,4],"range":[107,127]},"axis":null},"y":{"field":"s","type":"ordinal","scale":{"type":"point","padding":0.5},"axis":null},"text":{"field":"s","type":"nominal"},"color":{"field":"s","type":"nominal","legend":null}}}
   ]}
 ]},
{"columns":3,"spacing":{"row":23,"column":57},"bounds":"flush","align":"each","resolve":{"scale":{"x":"independent","y":"independent"}},
 "concat":[
  {"width":108,"height":57,"title":{"text":"Low-carbon products (y)","fontSize":10.5,"fontWeight":"normal","offset":4.4,"baseline":"bottom","dx":-8},
   "encoding":{
    "x":{"field":"t","type":"quantitative","scale":{"domain":[0,50],"nice":false},"axis":{"values":[0,10,20,30,40,50],"title":"Time (Month)","titleFontWeight":"normal","labelFontSize":7,"titleFontSize":7,"labelPadding":2.5,"titlePadding":0,"labelFlush":false}},
    "y":{"field":"v","type":"quantitative","scale":{"domain":[0,1],"nice":false},"axis":{"values":[0,0.25,0.5,0.75,1],"format":"~g","labelExpr":"datum.value==0.25||datum.value==0.75?'':datum.label","title":"percent","titleFontWeight":"normal","titleFontSize":4.5,"labelFontSize":7.5,"labelPadding":5,"titlePadding":6,"labelFlush":true}},
    "color":{"field":"s","type":"nominal","scale":{"domain":[1,2,3,4,5,6,7],"range":["#7b55d9","#e0896a","#4a9e50","#a9a9a9","#2b2b2b","#9b5b50","#8fcde6"]},"legend":null}},
   "layer":[
    {"data":{"name":"curves"},"transform":[{"filter":"datum.p=='d'"}],"mark":{"type":"line","interpolate":"monotone","strokeWidth":1,"clip":true}},
    {"data":{"name":"mk"},"transform":[{"filter":"datum.p=='d'"}],"mark":{"type":"text","fontSize":5.5,"baseline":"middle"},"encoding":{"text":{"field":"s","type":"nominal"}}}
   ]},
  {"width":108,"height":57,"title":{"text":"Low-carbon products (y)","fontSize":10.5,"fontWeight":"normal","offset":4.4,"baseline":"bottom","dx":-8},
   "encoding":{
    "x":{"field":"t","type":"quantitative","scale":{"domain":[0,50],"nice":false},"axis":{"values":[0,10,20,30,40,50],"title":"Time (Month)","titleFontWeight":"normal","labelFontSize":7,"titleFontSize":7,"labelPadding":2.5,"titlePadding":0,"labelFlush":false}},
    "y":{"field":"v","type":"quantitative","scale":{"domain":[0,1],"nice":false},"axis":{"values":[0,0.25,0.5,0.75,1],"format":"~g","labelExpr":"datum.value==0.25||datum.value==0.75?'':datum.label","title":"percent","titleFontWeight":"normal","titleFontSize":4.5,"labelFontSize":7.5,"labelPadding":5,"titlePadding":6,"labelFlush":true}},
    "color":{"field":"s","type":"nominal","scale":{"domain":[1,2,3,4,5,6,7],"range":["#7b55d9","#e0896a","#4a9e50","#a9a9a9","#2b2b2b","#9b5b50","#8fcde6"]},"legend":null}},
   "layer":[
    {"data":{"name":"curves"},"transform":[{"filter":"datum.p=='e'"}],"mark":{"type":"line","interpolate":"monotone","strokeWidth":1,"clip":true}},
    {"data":{"name":"mk"},"transform":[{"filter":"datum.p=='e'"}],"mark":{"type":"text","fontSize":5.5,"baseline":"middle"},"encoding":{"text":{"field":"s","type":"nominal"}}}
   ]},
  {"width":108,"height":57,"title":{"text":"Low-carbon products (y)","fontSize":10.5,"fontWeight":"normal","offset":4.4,"baseline":"bottom","dx":-8},
   "encoding":{
    "x":{"field":"t","type":"quantitative","scale":{"domain":[0,50],"nice":false},"axis":{"values":[0,10,20,30,40,50],"title":"Time (Month)","titleFontWeight":"normal","labelFontSize":7,"titleFontSize":7,"labelPadding":2.5,"titlePadding":0,"labelFlush":false}},
    "y":{"field":"v","type":"quantitative","scale":{"domain":[0,1],"nice":false},"axis":{"values":[0,0.25,0.5,0.75,1],"format":"~g","labelExpr":"datum.value==0.25||datum.value==0.75?'':datum.label","title":"percent","titleFontWeight":"normal","titleFontSize":4.5,"labelFontSize":7.5,"labelPadding":5,"titlePadding":6,"labelFlush":true}},
    "color":{"field":"s","type":"nominal","scale":{"domain":[1,2,3,4,5,6,7],"range":["#7b55d9","#e0896a","#4a9e50","#a9a9a9","#2b2b2b","#9b5b50","#8fcde6"]},"legend":null}},
   "layer":[
    {"data":{"name":"curves"},"transform":[{"filter":"datum.p=='f'"}],"mark":{"type":"line","interpolate":"monotone","strokeWidth":1,"clip":true}},
    {"data":{"name":"mk"},"transform":[{"filter":"datum.p=='f'"}],"mark":{"type":"text","fontSize":5.5,"baseline":"middle"},"encoding":{"text":{"field":"s","type":"nominal"}}}
   ]},
  {"width":126,"height":41.5,"view":{"stroke":null},"title":{"text":"(d)","orient":"bottom","fontSize":10,"fontWeight":"bold","offset":10,"baseline":"top","dx":-20.5},
   "data":{"name":"leg"},"transform":[{"filter":"datum.p=='d'"}],"resolve":{"scale":{"x":"independent"}},
   "layer":[
    {"mark":{"type":"rule","strokeWidth":1},"encoding":{"x":{"datum":40,"scale":{"domain":[0,126],"nice":false,"zero":false},"axis":null},"x2":{"datum":110},"y":{"field":"s","type":"ordinal","scale":{"type":"point","padding":0.5},"axis":null},"color":{"field":"s","type":"nominal","scale":{"domain":[1,2,3,4,5,6,7],"range":["#7b55d9","#e0896a","#4a9e50","#a9a9a9","#2b2b2b","#9b5b50","#8fcde6"]},"legend":null}}},
    {"mark":{"type":"text","align":"right","baseline":"middle","fontSize":4.4,"color":"#1a1a1a"},"encoding":{"x":{"datum":36,"scale":{"domain":[0,126],"nice":false,"zero":false},"axis":null},"y":{"field":"s","type":"ordinal","scale":{"type":"point","padding":0.5},"axis":null},"text":{"field":"lab"}}},
    {"mark":{"type":"text","baseline":"middle","fontSize":5},"encoding":{"x":{"field":"s","type":"quantitative","scale":{"domain":[1,7],"range":[50,84]},"axis":null},"y":{"field":"s","type":"ordinal","scale":{"type":"point","padding":0.5},"axis":null},"text":{"field":"s","type":"nominal"},"color":{"field":"s","type":"nominal","legend":null}}},
    {"transform":[{"filter":"datum.s<=4"}],"mark":{"type":"text","baseline":"middle","fontSize":5},"encoding":{"x":{"field":"s","type":"quantitative","scale":{"domain":[1,4],"range":[89,106]},"axis":null},"y":{"field":"s","type":"ordinal","scale":{"type":"point","padding":0.5},"axis":null},"text":{"field":"s","type":"nominal"},"color":{"field":"s","type":"nominal","legend":null}}}
   ]},
  {"width":126,"height":41.5,"view":{"stroke":null},"title":{"text":"(e)","orient":"bottom","fontSize":10,"fontWeight":"bold","offset":10,"baseline":"top","dx":-20.5},
   "data":{"name":"leg"},"transform":[{"filter":"datum.p=='e'"}],"resolve":{"scale":{"x":"independent"}},
   "layer":[
    {"mark":{"type":"rule","strokeWidth":1},"encoding":{"x":{"datum":40,"scale":{"domain":[0,126],"nice":false,"zero":false},"axis":null},"x2":{"datum":110},"y":{"field":"s","type":"ordinal","scale":{"type":"point","padding":0.5},"axis":null},"color":{"field":"s","type":"nominal","scale":{"domain":[1,2,3,4,5,6,7],"range":["#7b55d9","#e0896a","#4a9e50","#a9a9a9","#2b2b2b","#9b5b50","#8fcde6"]},"legend":null}}},
    {"mark":{"type":"text","align":"right","baseline":"middle","fontSize":4.4,"color":"#1a1a1a"},"encoding":{"x":{"datum":36,"scale":{"domain":[0,126],"nice":false,"zero":false},"axis":null},"y":{"field":"s","type":"ordinal","scale":{"type":"point","padding":0.5},"axis":null},"text":{"field":"lab"}}},
    {"mark":{"type":"text","baseline":"middle","fontSize":5},"encoding":{"x":{"field":"s","type":"quantitative","scale":{"domain":[1,7],"range":[50,84]},"axis":null},"y":{"field":"s","type":"ordinal","scale":{"type":"point","padding":0.5},"axis":null},"text":{"field":"s","type":"nominal"},"color":{"field":"s","type":"nominal","legend":null}}},
    {"transform":[{"filter":"datum.s<=4"}],"mark":{"type":"text","baseline":"middle","fontSize":5},"encoding":{"x":{"field":"s","type":"quantitative","scale":{"domain":[1,4],"range":[89,106]},"axis":null},"y":{"field":"s","type":"ordinal","scale":{"type":"point","padding":0.5},"axis":null},"text":{"field":"s","type":"nominal"},"color":{"field":"s","type":"nominal","legend":null}}}
   ]},
  {"width":126,"height":41.5,"view":{"stroke":null},"title":{"text":"(f)","orient":"bottom","fontSize":10,"fontWeight":"bold","offset":10,"baseline":"top","dx":-20.5},
   "data":{"name":"leg"},"transform":[{"filter":"datum.p=='f'"}],"resolve":{"scale":{"x":"independent"}},
   "layer":[
    {"mark":{"type":"rule","strokeWidth":1},"encoding":{"x":{"datum":40,"scale":{"domain":[0,126],"nice":false,"zero":false},"axis":null},"x2":{"datum":110},"y":{"field":"s","type":"ordinal","scale":{"type":"point","padding":0.5},"axis":null},"color":{"field":"s","type":"nominal","scale":{"domain":[1,2,3,4,5,6,7],"range":["#7b55d9","#e0896a","#4a9e50","#a9a9a9","#2b2b2b","#9b5b50","#8fcde6"]},"legend":null}}},
    {"mark":{"type":"text","align":"right","baseline":"middle","fontSize":4.4,"color":"#1a1a1a"},"encoding":{"x":{"datum":36,"scale":{"domain":[0,126],"nice":false,"zero":false},"axis":null},"y":{"field":"s","type":"ordinal","scale":{"type":"point","padding":0.5},"axis":null},"text":{"field":"lab"}}},
    {"mark":{"type":"text","baseline":"middle","fontSize":5},"encoding":{"x":{"field":"s","type":"quantitative","scale":{"domain":[1,7],"range":[50,84]},"axis":null},"y":{"field":"s","type":"ordinal","scale":{"type":"point","padding":0.5},"axis":null},"text":{"field":"s","type":"nominal"},"color":{"field":"s","type":"nominal","legend":null}}},
    {"transform":[{"filter":"datum.s<=4"}],"mark":{"type":"text","baseline":"middle","fontSize":5},"encoding":{"x":{"field":"s","type":"quantitative","scale":{"domain":[1,4],"range":[89,106]},"axis":null},"y":{"field":"s","type":"ordinal","scale":{"type":"point","padding":0.5},"axis":null},"text":{"field":"s","type":"nominal"},"color":{"field":"s","type":"nominal","legend":null}}}
   ]}
 ]}
]
}
